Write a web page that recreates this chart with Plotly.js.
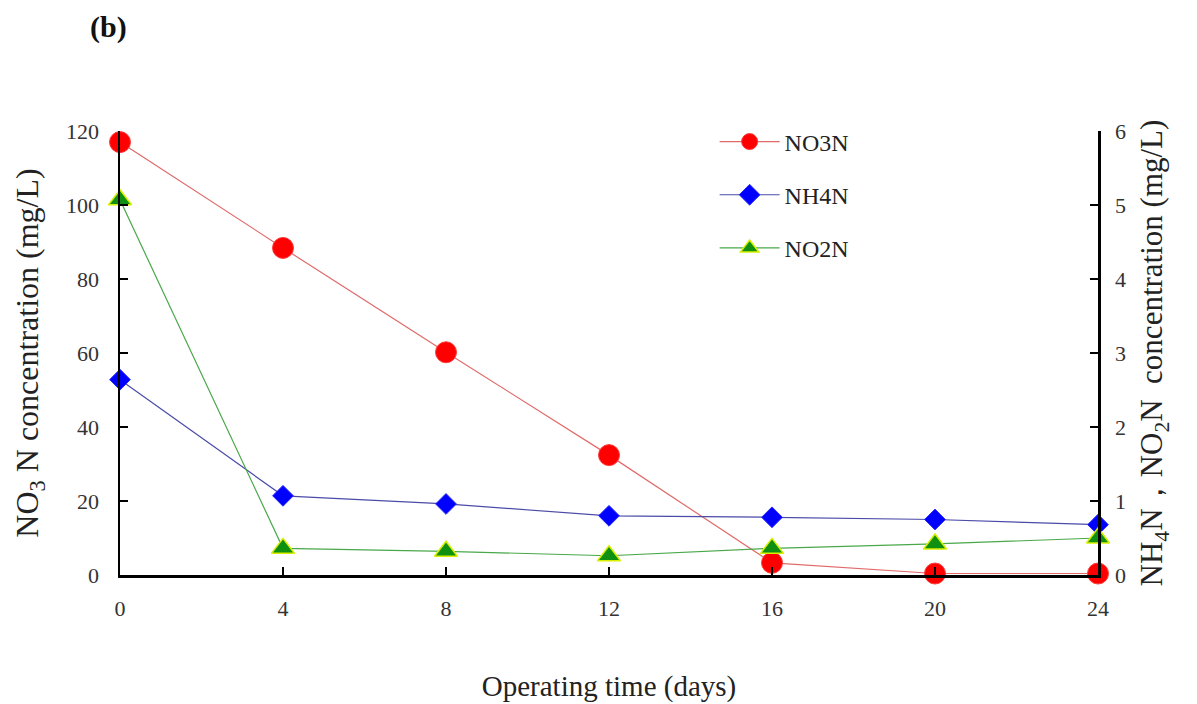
<!DOCTYPE html>
<html>
<head>
<meta charset="utf-8">
<script src="https://cdn.plot.ly/plotly-3.0.1.min.js"></script>
<style>html,body{margin:0;padding:0;background:#fff;}#chart{width:1197px;height:704px;}</style>
</head>
<body>
<div id="chart"></div>
<script>
// Operating time (days)
const days = [0, 4, 8, 12, 16, 20, 24];
// NO3-N (left axis, mg/L)
const no3n = [117, 88.4, 60.2, 32.4, 3.3, 0.4, 0.4];
// NH4-N (right axis, mg/L)
const nh4n = [2.64, 1.07, 0.96, 0.80, 0.78, 0.75, 0.68];
// NO2-N (right axis, mg/L)
const no2n = [5.07, 0.36, 0.32, 0.26, 0.36, 0.42, 0.50];
const xTicks = [0, 4, 8, 12, 16, 20, 24];
const yLeftTicks = [0, 20, 40, 60, 80, 100, 120];
const yRightTicks = [0, 1, 2, 3, 4, 5, 6];

const serif = "Liberation Serif, Times New Roman, serif";

const traces = [
  {x: days, y: no3n, name: "NO3N", type: "scatter", mode: "lines+markers", yaxis: "y", legendgroup: "a",
   line: {color: "#e06a6a", width: 1.2},
   marker: {symbol: "circle", size: 21, color: "#ff0000", line: {color: "#ff3b3b", width: 1}},
   cliponaxis: false},
  {x: days, y: nh4n, name: "NH4N", type: "scatter", mode: "lines+markers", yaxis: "y2", legendgroup: "b",
   line: {color: "#4b4ba8", width: 1.2},
   marker: {symbol: "diamond", size: 16, color: "#0000ff", line: {color: "#2a2aff", width: 1}},
   cliponaxis: false},
  {x: days, y: no2n, name: "NO2N", type: "scatter", mode: "lines+markers", yaxis: "y2", legendgroup: "c",
   line: {color: "#4aa84a", width: 1.2},
   marker: {symbol: "triangle-up", size: 20, color: "#109010", line: {color: "#d8f000", width: 1.5}},
   cliponaxis: false}
];

const layout = {
  width: 1197, height: 704,
  margin: {l: 120, r: 99, t: 131, b: 129},
  paper_bgcolor: "#ffffff", plot_bgcolor: "#ffffff",
  font: {family: serif, color: "#222222", size: 22},
  showlegend: true,
  legend: {x: 0.608, y: 1.026, xanchor: "left", yanchor: "top", bgcolor: "rgba(0,0,0,0)",
           font: {family: serif, size: 24, color: "#222"}, tracegroupgap: 19, itemwidth: 60},
  xaxis: {
    range: [0, 24], tickvals: xTicks, ticktext: xTicks.map(String),
    showgrid: false, zeroline: false, showline: true, linecolor: "#000", linewidth: 2.5,
    ticks: "inside", ticklen: 8, tickwidth: 2, tickcolor: "#000",
    tickfont: {family: serif, size: 22, color: "#333"},
    ticklabelstandoff: 12,
    title: {text: "Operating time (days)", font: {family: serif, size: 29, color: "#222"}, standoff: 56}
  },
  yaxis: {
    range: [0, 120], tickvals: yLeftTicks, ticktext: yLeftTicks.map(String),
    showgrid: false, zeroline: false, showline: true, linecolor: "#000", linewidth: 2.5,
    ticks: "inside", ticklen: 8, tickwidth: 2, tickcolor: "#000",
    tickfont: {family: serif, size: 22, color: "#333"},
    ticklabelstandoff: 14,
    title: {text: "NO<sub>3</sub> N concentration (mg/L)", font: {family: serif, size: 32, color: "#222"}, standoff: 18}
  },
  yaxis2: {
    range: [0, 6], tickvals: yRightTicks, ticktext: yRightTicks.map(String),
    overlaying: "y", side: "right",
    showgrid: false, zeroline: false, showline: true, linecolor: "#000", linewidth: 2.5,
    ticks: "inside", ticklen: 8, tickwidth: 2, tickcolor: "#000",
    tickfont: {family: serif, size: 22, color: "#333"},
    ticklabelstandoff: 10,
    title: {text: "NH<sub>4</sub>N，NO<sub>2</sub>N  concentration (mg/L)", font: {family: serif, size: 31, color: "#222"}, standoff: 16}
  },
  annotations: [
    {text: "<b>(b)</b>", xref: "paper", yref: "paper", x: -0.012, y: 1.235, xanchor: "center", yanchor: "middle",
     showarrow: false, font: {family: serif, size: 30, color: "#111"}}
  ]
};

Plotly.newPlot("chart", traces, layout, {displayModeBar: false, staticPlot: true});
</script>
</body>
</html>
